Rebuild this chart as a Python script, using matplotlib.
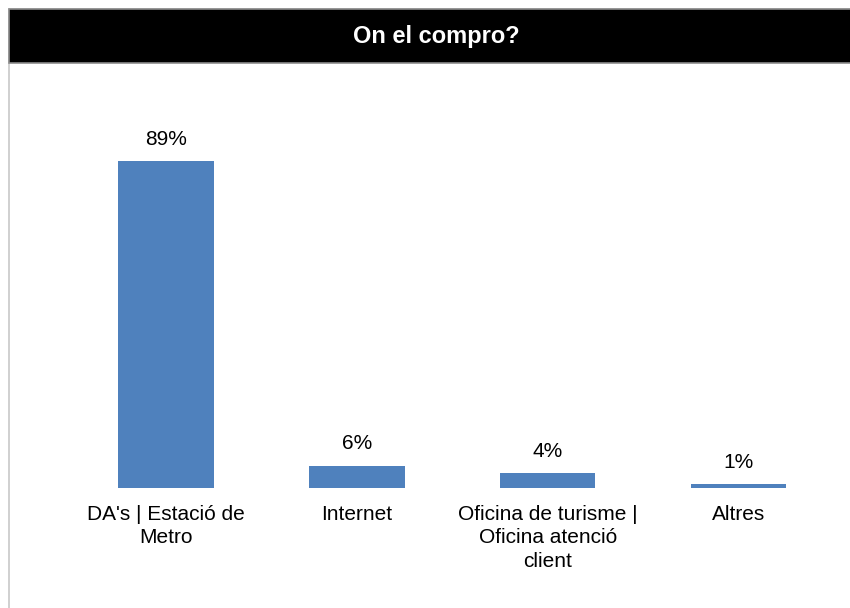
import matplotlib.pyplot as plt
from matplotlib.patches import Rectangle

plt.rcParams['font.family'] = ['Liberation Sans', 'DejaVu Sans']

title = 'On el compro?'
categories = ["DA's | Estació de\nMetro", 'Internet',
              'Oficina de turisme |\nOficina atenció\nclient', 'Altres']
shares = [89, 6, 4, 1]

bar_color = '#4F81BD'

W, H = 850, 608
fig = plt.figure(figsize=(W / 100, H / 100), dpi=100)

# outer frame and black header strip
fig.patches.append(Rectangle((9 / W, -0.05), 1.0, (H - 9) / H + 0.05,
                             transform=fig.transFigure, facecolor='white',
                             edgecolor='#c8c8c8', linewidth=1.2, zorder=0))
fig.patches.append(Rectangle((9 / W, (H - 63) / H), 1.0, 54 / H,
                             transform=fig.transFigure, facecolor='black',
                             edgecolor='#8c8c8c', linewidth=1.2, zorder=1))
fig.text(436 / W, (H - 36) / H, title, color='white', fontsize=17,
         fontweight='bold', ha='center', va='center')

ax = fig.add_axes([70.6 / W, (H - 488) / H, 763.4 / W, 367 / H])
ax.set_zorder(3)
ax.patch.set_alpha(0)
x = range(len(categories))
bars = ax.bar(x, shares, width=0.5, color=bar_color)
ax.set_xlim(-0.5, len(categories) - 0.5)
ax.set_ylim(0, 100)

for rect, v in zip(bars, shares):
    ax.annotate(f'{v}%', (rect.get_x() + rect.get_width() / 2, v),
                xytext=(0, 16), textcoords='offset points',
                ha='center', va='center', fontsize=15)

ax.set_xticks(list(x))
ax.set_xticklabels(categories, fontsize=15, linespacing=1.3)
ax.tick_params(axis='x', length=0, pad=12)
ax.set_yticks([])
for s in ax.spines.values():
    s.set_visible(False)

fig.savefig('out.png', dpi=100)
